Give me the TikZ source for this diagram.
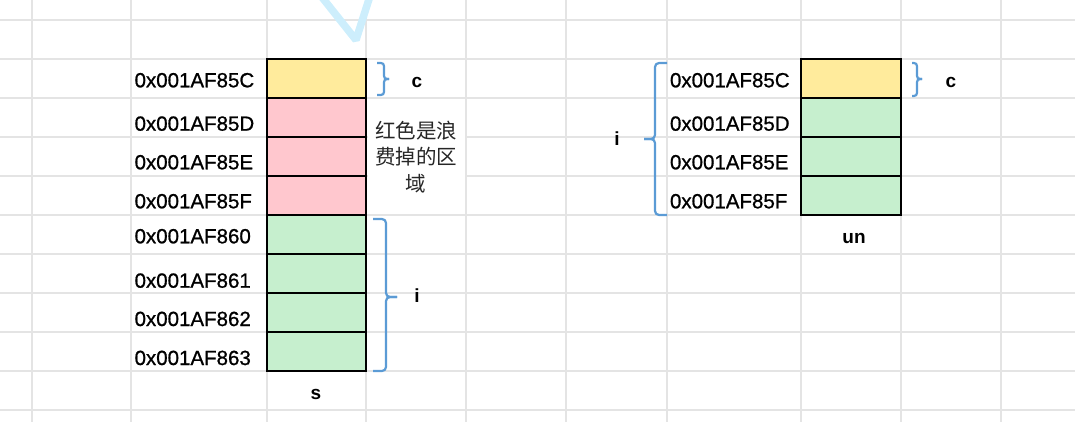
\documentclass[tikz,border=0pt]{standalone}
\usepackage{fontspec}
\setmainfont{Liberation Sans}
\newfontfamily\addrfont[RawFeature={embolden=0.9}]{Liberation Sans}
\newfontfamily\cjkfont{Noto Sans CJK SC}
\usepackage{tikz}

\definecolor{goodgreen}{HTML}{C6EFCE}
\definecolor{badred}{HTML}{FFC7CE}
\definecolor{neutralyellow}{HTML}{FFEB9C}
\definecolor{braceblue}{HTML}{5B9BD5}
\definecolor{gridgray}{HTML}{E4E4E4}
\definecolor{cursorblue}{HTML}{CDEEFC}

\begin{document}
\begin{tikzpicture}[
    x=1pt, y=-1pt, % 以像素为单位, y 轴向下
    cell/.style={draw=black, line width=1.5pt, minimum height=39pt, inner sep=0pt},
    addr/.style={anchor=base west, inner sep=0pt, font=\addrfont\fontsize{20.5}{24}\selectfont},
    tag/.style={anchor=base, inner sep=0pt, font=\bfseries\fontsize{19}{22}\selectfont},
    brace/.style={draw=braceblue, line width=2.2pt, rounded corners=3pt}
    ]
    \useasboundingbox (0,0) rectangle (1080,436);

    % --- 表格区域 ---
    \def\gridw{1075} \def\gridh{422}
    \def\rowh{39}

    % 1. 背景网格
    \foreach \y in {20,59,...,410}
        \draw[gridgray, line width=1.5pt] (0,\y) -- (\gridw,\y);
    \foreach \x in {32,131,267,366,466,566,667,801,901,1001}
        \draw[gridgray, line width=1.5pt] (\x,0) -- (\x,\gridh);

    % 2. 顶部的光标残影
    \draw[cursorblue, line width=7.5pt, line join=bevel] (321,-4) -- (356,40) -- (370,-4);

    % --- 结构体 s ---
    \begin{scope}
        % 内存格子
        \foreach \i/\c in {0/neutralyellow,1/badred,2/badred,3/badred,
                           4/goodgreen,5/goodgreen,6/goodgreen,7/goodgreen} {
            \node[cell, minimum width=99pt, fill=\c] (s\i) at (316.5,{78.5+\rowh*\i}) {};
        }
        % 地址
        \foreach \i/\b/\t in {0/87.3/0x001AF85C, 1/130.7/0x001AF85D, 2/169.3/0x001AF85E,
                              3/208.3/0x001AF85F, 4/243.3/0x001AF860, 5/287.7/0x001AF861,
                              6/326/0x001AF862, 7/365/0x001AF863} {
            \node[addr] (sa\i) at (134.4,\b) {\t};
        }
        % 说明文字
        \node[fill=white, minimum width=97pt, minimum height=112pt, inner sep=0pt,
              align=center, text=black!85,
              font=\cjkfont\fontsize{20.5}{26.7}\selectfont] (waste) at (416,157)
              {红色是浪\\费掉的区\\域};
        % 大括号
        \draw[brace] (377,63) -- (384,63) -- (384,79) -- (389,79);
        \draw[brace] (377,95) -- (384,95) -- (384,79) -- (389,79);
        \draw[brace, rounded corners=4pt] (373,219) -- (386,219) -- (386,297) -- (397,297);
        \draw[brace, rounded corners=4pt] (373,371) -- (386,371) -- (386,297) -- (397,297);
        \node[tag] (sc) at (417,87.3) {c};
        \node[tag] (si) at (417,302) {i};
        \node[tag] (sname) at (316,399) {s};
    \end{scope}

    % --- 联合体 un ---
    \begin{scope}
        \foreach \i/\c in {0/neutralyellow,1/goodgreen,2/goodgreen,3/goodgreen} {
            \node[cell, minimum width=100pt, fill=\c] (u\i) at (851,{78.5+\rowh*\i}) {};
        }
        \foreach \i/\b/\t in {0/87.3/0x001AF85C, 1/130.7/0x001AF85D,
                              2/169.3/0x001AF85E, 3/208.3/0x001AF85F} {
            \node[addr] (ua\i) at (669.8,\b) {\t};
        }
        \draw[brace] (912,63) -- (917,63) -- (917,79) -- (922,79);
        \draw[brace] (912,96) -- (917,96) -- (917,79) -- (922,79);
        \draw[brace, rounded corners=4pt] (667,63) -- (655,63) -- (655,139) -- (644,139);
        \draw[brace, rounded corners=4pt] (667,215) -- (655,215) -- (655,139) -- (644,139);
        \node[tag] (uc) at (951,87.7) {c};
        \node[tag] (ui) at (617,145.5) {i};
        \node[tag] (uname) at (854,243) {un};
    \end{scope}

\end{tikzpicture}
\end{document}
